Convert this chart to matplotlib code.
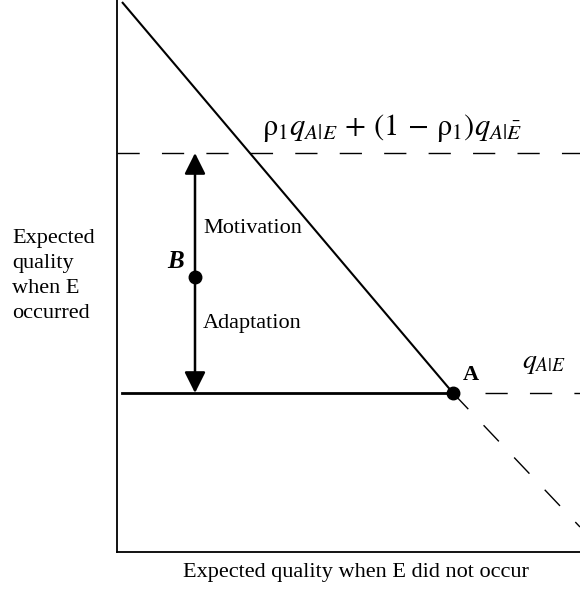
import matplotlib.pyplot as plt

plt.rcParams['font.family'] = ['Liberation Serif', 'DejaVu Serif']
plt.rcParams['mathtext.fontset'] = 'stix'

# values (axis units, origin at bottom-left of the plot frame)
frontier_x = [5, 336, 463]
frontier_y = [550, 159, 25]
point_A = (336, 159)
point_B = (78, 275)
level_high = 399
level_low = 159
adapt_start = 5

fig = plt.figure(figsize=(5.8, 5.92), dpi=100)
ax = fig.add_axes([117/580, 40/592, 463/580, 552/592])
ax.set_xlim(0, 463)
ax.set_ylim(0, 552)

dash = dict(color='black', lw=1.0, dashes=(16, 16))

# frontier: solid up to A, dashed afterwards
ax.plot(frontier_x[:2], frontier_y[:2], color='black', lw=1.5, solid_capstyle='butt')
ax.plot(frontier_x[1:], frontier_y[1:], **dash)

# upper expected-quality level
ax.plot([0, 463], [level_high, level_high], **dash)

# lower level q_{A|E}: solid left of A, dashed to the right
ax.plot([adapt_start, point_A[0]], [level_low, level_low], color='black', lw=2.0)
ax.plot([point_A[0] + 32, 463], [level_low, level_low], **dash)

# double-headed arrow through B
for end in (level_high, level_low):
    ax.annotate('', xy=(point_B[0], end), xytext=(point_B[0], point_B[1]),
                arrowprops=dict(arrowstyle='-|>', color='black', lw=1.8,
                                mutation_scale=32, shrinkA=0, shrinkB=0))

ax.plot(*point_A, 'o', color='black', ms=9)
ax.plot(*point_B, 'o', color='black', ms=9)

ax.text(346, 172, 'A', fontsize=16, fontweight='bold', va='baseline')
ax.text(50, 284, 'B', fontsize=18, fontweight='bold', style='italic', va='baseline')
ax.text(86, 319, 'Motivation', fontsize=16, va='baseline')
ax.text(86, 224, 'Adaptation', fontsize=16, va='baseline')

ax.text(405, 184, r'$q_{A|E}$', fontsize=20, va='baseline')
ax.text(145, 417, r'$\mathrm{\rho}_1 q_{A|E} \,+\, \left(1 \,-\, \mathrm{\rho}_1\right) q_{A|\bar{E}}$',
        fontsize=22, va='baseline')

fig.text(12/580, 1 - 276/592, 'Expected\nquality\nwhen E\noccurred', fontsize=16,
         ha='left', va='center', linespacing=1.42)
fig.text(356/580, 1 - 573/592, 'Expected quality when E did not occur', fontsize=16,
         ha='center', va='center')

ax.set_xticks([])
ax.set_yticks([])
ax.spines['top'].set_visible(False)
ax.spines['right'].set_visible(False)
ax.spines['left'].set_linewidth(1.3)
ax.spines['bottom'].set_linewidth(1.3)

fig.savefig('out.png', dpi=100)
